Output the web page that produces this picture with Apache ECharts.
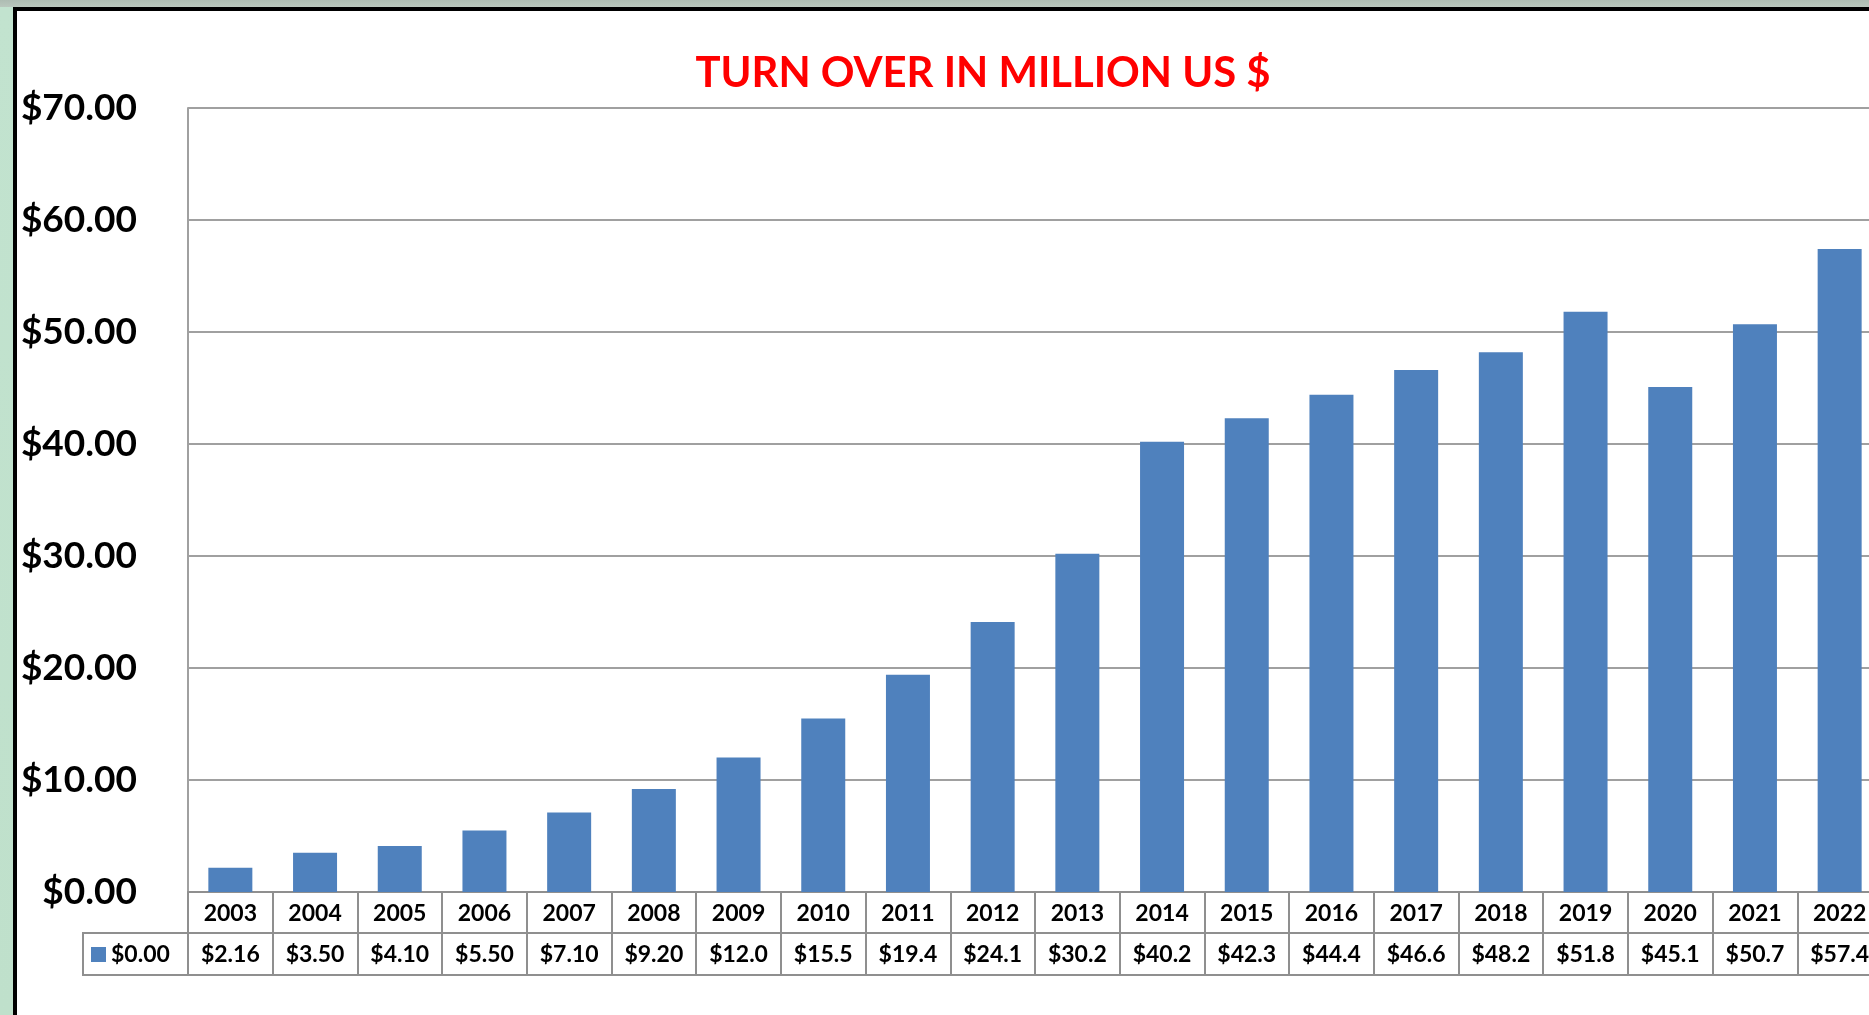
<!DOCTYPE html>
<html>
<head>
<meta charset="utf-8">
<script src="https://cdn.jsdelivr.net/npm/echarts@6/dist/echarts.min.js"></script>
<style>
  html, body { margin: 0; padding: 0; width: 1869px; height: 1015px; overflow: hidden; }
  body { position: relative; background: linear-gradient(to bottom, #aebdb3 0px, #b9c7bd 7px, #c2e3cf 7px, #bfe0cb 1015px); }
  #frame { position: absolute; left: 13px; top: 7px; width: 1856px; height: 1008px;
           background: #ffffff; border-left: 4px solid #000; border-top: 4px solid #000; box-sizing: border-box; }
  #chart { position: absolute; left: 0; top: 0; width: 1920px; height: 1015px; }
</style>
</head>
<body>
<div id="frame"></div>
<div id="chart"></div>
<script>
const titleText = 'TURN OVER IN MILLION US $';
const seriesName = '$0.00';
const years = ['2003','2004','2005','2006','2007','2008','2009','2010','2011','2012',
               '2013','2014','2015','2016','2017','2018','2019','2020','2021','2022'];
const turnover = [2.16, 3.50, 4.10, 5.50, 7.10, 9.20, 12.0, 15.5, 19.4, 24.1,
                  30.2, 40.2, 42.3, 44.4, 46.6, 48.2, 51.8, 45.1, 50.7, 57.4];
const yTicks = [0, 10, 20, 30, 40, 50, 60, 70];

const gridColor = '#a0a0a0';
const tableColor = '#8f8f8f';
const font = 'Lato, "Open Sans", sans-serif';

function money(v) { return '$' + Number(v).toFixed(2); }
function cellText(v) { return money(v).slice(0, 5); }

const chart = echarts.init(document.getElementById('chart'), null, { renderer: 'canvas' });
chart.setOption({
  backgroundColor: 'transparent',
  animation: false,
  title: {
    text: titleText,
    left: 978, top: 48, textAlign: 'center',
    textStyle: { color: '#ff0000', fontFamily: font, fontWeight: 'bold', fontSize: 41.8 }
  },
  legend: {
    data: [seriesName],
    left: 91, top: 943, padding: 0,
    icon: 'rect', itemWidth: 15, itemHeight: 15,
    textStyle: { color: '#000', fontFamily: font, fontWeight: 'bold', fontSize: 23 }
  },
  grid: { left: 188, top: 108, width: 1694, height: 784, containLabel: false },
  xAxis: [
    {
      type: 'category', data: years, position: 'bottom', boundaryGap: true,
      axisLine: { show: true, lineStyle: { color: tableColor, width: 2 } },
      axisTick: { show: true, interval: 0, length: 83, inside: false, lineStyle: { color: tableColor, width: 2 } },
      axisLabel: { interval: 0, margin: 22, verticalAlign: 'middle', color: '#000',
                   fontFamily: font, fontWeight: 'bold', fontSize: 23 },
      splitLine: { show: false }
    },
    {
      type: 'category', data: years, position: 'bottom', offset: 41, boundaryGap: true,
      axisLine: { show: true, lineStyle: { color: tableColor, width: 2 } },
      axisTick: { show: false },
      axisLabel: { interval: 0, margin: 22, verticalAlign: 'middle', color: '#000',
                   fontFamily: font, fontWeight: 'bold', fontSize: 23,
                   formatter: function (v, i) { return cellText(turnover[i]); } },
      splitLine: { show: false }
    },
    {
      type: 'category', data: years, position: 'bottom', offset: 83, boundaryGap: true,
      axisLine: { show: true, lineStyle: { color: tableColor, width: 2 } },
      axisTick: { show: false }, axisLabel: { show: false }, splitLine: { show: false }
    }
  ],
  yAxis: {
    type: 'value', min: yTicks[0], max: yTicks[yTicks.length - 1], interval: 10,
    axisLine: { show: true, lineStyle: { color: gridColor, width: 2 } },
    axisTick: { show: false },
    splitLine: { show: true, lineStyle: { color: gridColor, width: 2 } },
    axisLabel: { margin: 51, color: '#000', fontFamily: font, fontWeight: 'bold', fontSize: 37,
                 formatter: function (v) { return money(v); } }
  },
  graphic: [
    { type: 'rect', shape: { x: 83, y: 933, width: 105, height: 42 },
      style: { fill: 'none', stroke: tableColor, lineWidth: 2 }, z: 10 }
  ],
  series: [{
    name: seriesName, type: 'bar', xAxisIndex: 0, data: turnover, barWidth: 44,
    itemStyle: { color: '#4f81bd' }
  }]
});
</script>
</body>
</html>
